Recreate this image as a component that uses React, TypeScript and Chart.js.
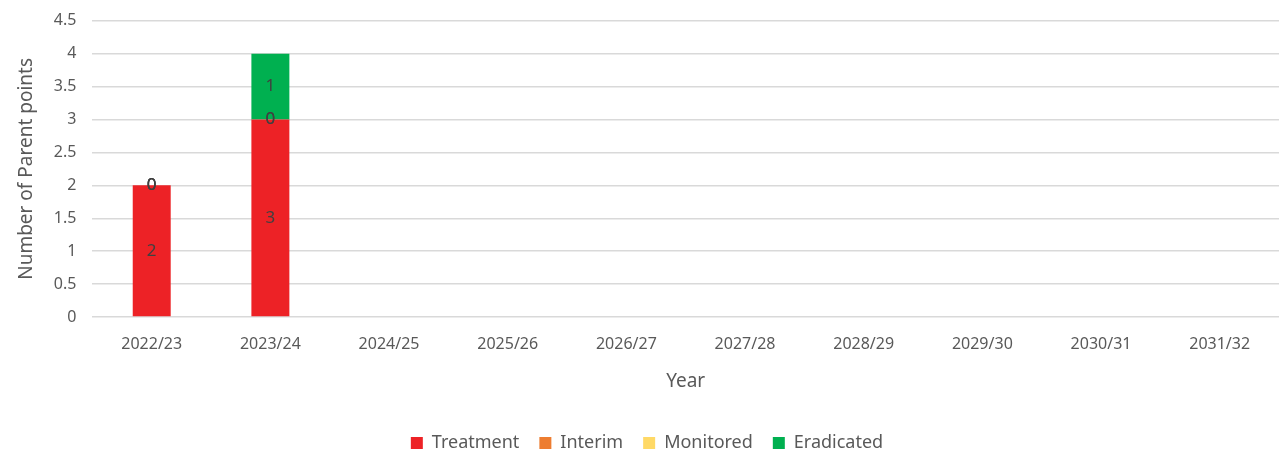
import React, { useEffect, useRef } from "react";
import { Chart, registerables } from "chart.js";

Chart.register(...registerables);

const categories = ["2022/23", "2023/24", "2024/25", "2025/26", "2026/27", "2027/28", "2028/29", "2029/30", "2030/31", "2031/32"];
const treatment = [2, 3, null, null, null, null, null, null, null, null];
const interim = [0, 0, null, null, null, null, null, null, null, null];
const monitored = [0, 0, null, null, null, null, null, null, null, null];
const eradicated = [0, 1, null, null, null, null, null, null, null, null];
const yTicks = [0, 0.5, 1, 1.5, 2, 2.5, 3, 3.5, 4, 4.5];

const FONT = "'Noto Sans', sans-serif";

const labelPlugin = {
  id: "segLabels",
  afterDatasetsDraw(chart: any) {
    const ctx = chart.ctx;
    ctx.save();
    ctx.font = `17px ${FONT}`;
    ctx.fillStyle = "#404040";
    ctx.textAlign = "center";
    ctx.textBaseline = "middle";
    chart.data.datasets.forEach((ds: any, i: number) => {
      const meta = chart.getDatasetMeta(i);
      meta.data.forEach((bar: any, j: number) => {
        const v = ds.data[j];
        if (v === null || v === undefined) return;
        const p = bar.getProps(["x", "y", "base"], true);
        ctx.fillText(String(v), p.x, (p.y + p.base) / 2);
      });
    });
    ctx.restore();
  },
};

export default function App() {
  const ref = useRef<HTMLCanvasElement>(null);
  useEffect(() => {
    const chart = new Chart(ref.current!, {
      type: "bar",
      data: {
        labels: categories,
        datasets: [
          { label: "Treatment", data: treatment, backgroundColor: "#ED2226" },
          { label: "Interim", data: interim, backgroundColor: "#ED7D31" },
          { label: "Monitored", data: monitored, backgroundColor: "#FFD966" },
          { label: "Eradicated", data: eradicated, backgroundColor: "#00B050" },
        ],
      },
      options: {
        animation: false,
        responsive: false,
        maintainAspectRatio: false,
        layout: { padding: { top: 2, right: 0, left: 15, bottom: -12 } },
        datasets: { bar: { barPercentage: 1, categoryPercentage: 0.32 } },
        plugins: {
          tooltip: { enabled: false },
          legend: {
            position: "bottom",
            labels: {
              boxWidth: 12,
              boxHeight: 12,
              color: "#595959",
              font: { family: FONT, size: 18 },
              padding: 20,
            },
          },
        },
        scales: {
          x: {
            stacked: true,
            grid: { display: false },
            border: { display: false },
            ticks: { color: "#595959", font: { family: FONT, size: 16 }, padding: 10, maxRotation: 0 },
            title: { display: true, text: "Year", color: "#595959", font: { family: FONT, size: 19 }, padding: { top: 6, bottom: 21 } },
          },
          y: {
            stacked: true,
            min: 0,
            max: 4.5,
            afterBuildTicks: (axis: any) => {
              axis.ticks = yTicks.map((v) => ({ value: v }));
            },
            grid: { color: "#D9D9D9", lineWidth: 1.5, drawTicks: false },
            border: { display: false },
            ticks: {
              color: "#595959",
              font: { family: FONT, size: 16, lineHeight: 0.6 },
              padding: 16,
              callback: (v: any) => String(v),
            },
            title: { display: true, text: "Number of Parent points", color: "#595959", font: { family: FONT, size: 19 }, padding: { top: 0, bottom: 0 } },
          },
        },
      },
      plugins: [labelPlugin],
    });
    return () => chart.destroy();
  }, []);
  return (
    <div style={{ position: "absolute", left: 0, top: 0, width: 1279, height: 450, background: "#fff" }}>
      <canvas ref={ref} width={1279} height={450} style={{ width: 1279, height: 450 }} />
    </div>
  );
}
